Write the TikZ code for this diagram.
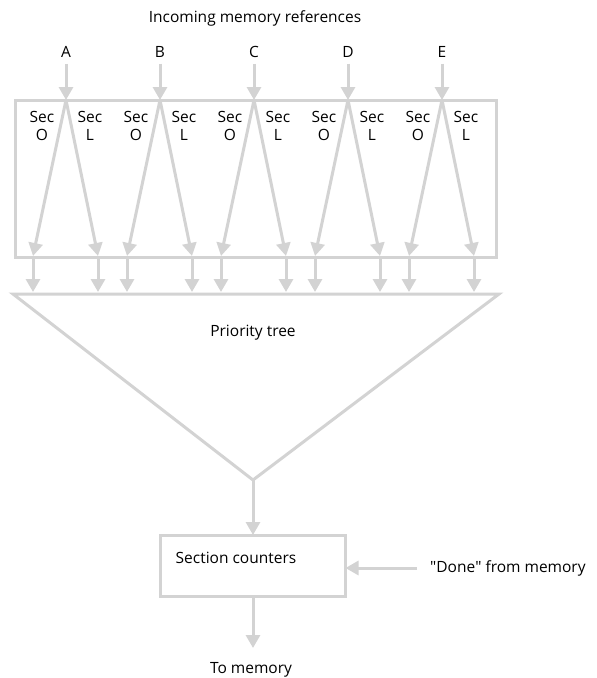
\documentclass[tikz,border=0pt]{standalone}
\usepackage{fontspec}
\setmainfont{Open Sans}
\usetikzlibrary{arrows.meta,positioning}
\definecolor{linegray}{RGB}{211,211,211}

\begin{document}
\begin{tikzpicture}[
  x=1pt, y=-1pt,
  gline/.style={draw=linegray, line width=3pt},
  garrow/.style={gline, -{Triangle[width=14pt,length=13pt]}},
  lbl/.style={font=\fontsize{15.5}{18}\selectfont, inner sep=0pt, align=center},
  gbox/.style={gline, inner sep=0pt, outer sep=0pt}
]
  \useasboundingbox (0,0) rectangle (597,678);
  \node[lbl] (title) at (255,18) {Incoming memory references};
  \node[gbox, minimum width=481pt, minimum height=157pt] (secbox) at (255.5,178.5) {};
  \foreach \n/\x in {A/66,B/160,C/254,D/348,E/442} {
    \node[lbl] (in\n) at (\x,52) {\n};
    \coordinate (top\n) at (\x,100);
    \coordinate (o\n) at (\x-33,256);
    \coordinate (l\n) at (\x+32,256);
    \coordinate (oo\n) at (\x-33,292);
    \coordinate (ll\n) at (\x+32,292);
    \node[lbl] (seco\n) at (\x-24,126) {Sec\\O};
    \node[lbl] (secl\n) at (\x+24,126) {Sec\\L};
    \draw[garrow] ([yshift=-6pt]in\n.south) -- (top\n);
    \draw[garrow] (top\n) -- (o\n);
    \draw[garrow] (top\n) -- (l\n);
    \draw[garrow] (o\n |- secbox.south) -- (oo\n);
    \draw[garrow] (l\n |- secbox.south) -- (ll\n);
  }
  % priority tree
  \coordinate (tl) at (13,294);
  \coordinate (tr) at (499,294);
  \coordinate (apex) at (253,480);
  \draw[gline, line join=miter] (tl) -- (tr) -- (apex) -- cycle;
  \node[lbl] (prio) at (253,333) {Priority tree};
  % counters
  \node[gbox, minimum width=185pt, minimum height=61pt] (cnt) at (253,565.5) {};
  \node[lbl, anchor=west] (cntlbl) at ([xshift=15pt,yshift=8pt]cnt.west) {Section counters};
  \draw[garrow] (apex) -- (cnt.north);
  \node[lbl, anchor=west] (done) at (430,568) {\textquotedbl Done\textquotedbl{} from memory};
  \draw[garrow] ([xshift=-13pt]done.west) -- (cnt.east |- done.west);
  \node[lbl] (tomem) at (251,670) {To memory};
  \coordinate (memtip) at (253,648);
  \draw[garrow] (cnt.south) -- (memtip);
\end{tikzpicture}
\end{document}
